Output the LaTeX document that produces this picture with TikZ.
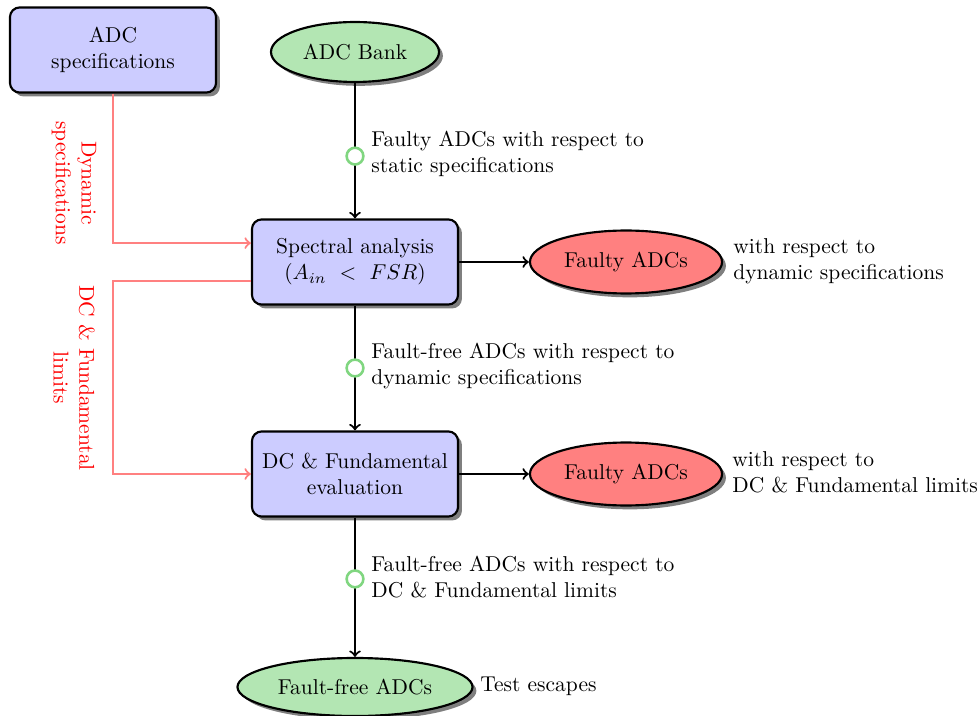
\documentclass[tikz,border=0pt]{standalone}
\usetikzlibrary{shapes.geometric,shadows}
\definecolor{boxblue}{RGB}{204,204,255}
\definecolor{okgreen}{RGB}{179,230,179}
\definecolor{ringgreen}{RGB}{128,214,128}
\definecolor{badred}{RGB}{255,128,128}
\begin{document}
\begin{tikzpicture}[x=0.4654pt,y=-0.4654pt,
  shade/.style={drop shadow={shadow xshift=1.8pt,shadow yshift=-1.8pt,fill=black,opacity=0.5}},
  proc/.style={draw,line width=1pt,rounded corners=4.5pt,fill=boxblue,minimum width=95.9pt,minimum height=39.6pt,align=center,shade},
  goodell/.style={ellipse,draw,line width=1pt,fill=okgreen,inner sep=0pt,shade},
  badell/.style={ellipse,draw,line width=1pt,fill=badred,inner sep=0pt,minimum width=89.4pt,minimum height=29.3pt,shade},
  ring/.style={circle,draw=ringgreen,fill=white,line width=1.2pt,minimum size=7.8pt,inner sep=0pt},
  flow/.style={line width=1pt,->},
  redline/.style={line width=1pt,->,draw=badred},
  note/.style={align=left,anchor=west,inner sep=0pt},
  side/.style={align=center,rotate=-90,text=red,inner sep=0pt}]
\useasboundingbox (0,0) rectangle (978,715);
\node[proc] (specs) at (113,50) {ADC\\specifications};
\node[goodell,minimum width=78.2pt,minimum height=27.9pt] (bank) at (355,52) {ADC Bank};
\node[proc] (spectral) at (355,262) {Spectral analysis\\($A_{in}\ <\ FSR$)};
\node[badell] (faulty1) at (626,262) {Faulty ADCs};
\node[proc] (dcf) at (355,474) {DC \& Fundamental\\evaluation};
\node[badell] (faulty2) at (626,474) {Faulty ADCs};
\node[goodell,minimum width=109.4pt,minimum height=27pt] (free) at (355,687) {Fault-free ADCs};

\draw[flow] (bank) -- node[ring,pos=0.54] (r1) {} (spectral);
\draw[flow] (spectral) -- node[ring] (r2) {} (dcf);
\draw[flow] (dcf) -- node[ring,pos=0.44] (r3) {} (free);
\draw[flow] (spectral) -- (faulty1);
\draw[flow] (dcf) -- (faulty2);

\node[note] (l1) at (371,154) {Faulty ADCs with respect to\\static specifications};
\node[note] (l2) at (371,366) {Fault-free ADCs with respect to\\dynamic specifications};
\node[note] (l3) at (371,577) {Fault-free ADCs with respect to\\DC \& Fundamental limits};
\node[note] (l4) at (733,261) {with respect to\\dynamic specifications};
\node[note] (l5) at (732,472) {with respect to\\DC \& Fundamental limits};
\node[note] (l6) at (480,686) {Test escapes};

\draw[redline] (specs.south) |- ([yshift=8.8pt]spectral.west);
\draw[redline] ([yshift=-8.8pt]spectral.west) -| (specs.south |- dcf.west) -- (dcf.west);
\node[side] (s1) at (74,183) {Dynamic\\specifications};
\node[side] (s2) at (74,378) {DC \& Fundamental\\limits};
\end{tikzpicture}
\end{document}
